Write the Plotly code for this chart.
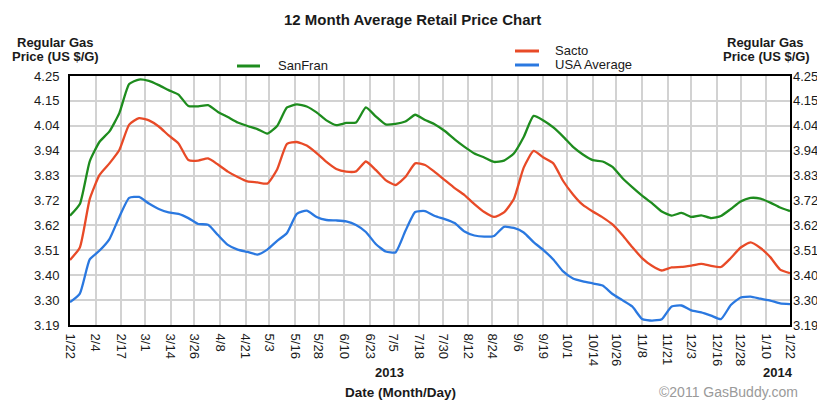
import plotly.graph_objects as go

dates = [
    "2013-01-22", "2013-01-27", "2013-02-01", "2013-02-06", "2013-02-11", "2013-02-16", "2013-02-21", "2013-02-26",
    "2013-03-03", "2013-03-08", "2013-03-13", "2013-03-18", "2013-03-23", "2013-03-28",
    "2013-04-02", "2013-04-07", "2013-04-12", "2013-04-17", "2013-04-22", "2013-04-27",
    "2013-05-02", "2013-05-07", "2013-05-12", "2013-05-17", "2013-05-22", "2013-05-27",
    "2013-06-01", "2013-06-06", "2013-06-11", "2013-06-16", "2013-06-21", "2013-06-26",
    "2013-07-01", "2013-07-06", "2013-07-11", "2013-07-16", "2013-07-21", "2013-07-26", "2013-07-31",
    "2013-08-05", "2013-08-10", "2013-08-15", "2013-08-20", "2013-08-25", "2013-08-30",
    "2013-09-04", "2013-09-09", "2013-09-14", "2013-09-19", "2013-09-24", "2013-09-29",
    "2013-10-04", "2013-10-09", "2013-10-14", "2013-10-19", "2013-10-24", "2013-10-29",
    "2013-11-03", "2013-11-08", "2013-11-13", "2013-11-18", "2013-11-23", "2013-11-28",
    "2013-12-03", "2013-12-08", "2013-12-13", "2013-12-18", "2013-12-23", "2013-12-28",
    "2014-01-02", "2014-01-07", "2014-01-12", "2014-01-17", "2014-01-22",
]

sanfran = [
    3.655, 3.705, 3.887, 3.970, 4.014, 4.092, 4.216, 4.235, 4.229, 4.211,
    4.190, 4.171, 4.122, 4.121, 4.126, 4.097, 4.075, 4.052, 4.037, 4.024,
    4.005, 4.037, 4.116, 4.129, 4.120, 4.095, 4.061, 4.041, 4.050, 4.052,
    4.116, 4.078, 4.044, 4.046, 4.056, 4.085, 4.063, 4.044, 4.016, 3.980,
    3.948, 3.920, 3.903, 3.884, 3.890, 3.920, 3.990, 4.080, 4.061, 4.031,
    3.992, 3.948, 3.916, 3.892, 3.886, 3.863, 3.816, 3.777, 3.741, 3.709,
    3.673, 3.656, 3.667, 3.650, 3.657, 3.645, 3.654, 3.684, 3.716, 3.731,
    3.728, 3.711, 3.690, 3.675,
]

sacto = [
    3.467, 3.520, 3.726, 3.829, 3.878, 3.935, 4.043, 4.071, 4.061, 4.035,
    3.997, 3.963, 3.892, 3.890, 3.899, 3.873, 3.843, 3.820, 3.801, 3.797,
    3.792, 3.852, 3.961, 3.969, 3.954, 3.922, 3.884, 3.854, 3.843, 3.844,
    3.886, 3.850, 3.807, 3.786, 3.820, 3.878, 3.871, 3.841, 3.807, 3.773,
    3.743, 3.705, 3.671, 3.650, 3.669, 3.726, 3.860, 3.931, 3.903, 3.878,
    3.803, 3.746, 3.701, 3.673, 3.648, 3.618, 3.573, 3.522, 3.475, 3.442,
    3.422, 3.435, 3.437, 3.443, 3.450, 3.442, 3.437, 3.475, 3.520, 3.542,
    3.518, 3.479, 3.426, 3.411,
]

usa = [
    3.287, 3.324, 3.469, 3.507, 3.556, 3.650, 3.731, 3.735, 3.707, 3.684,
    3.669, 3.663, 3.645, 3.620, 3.617, 3.573, 3.531, 3.511, 3.501, 3.490,
    3.511, 3.548, 3.582, 3.663, 3.677, 3.650, 3.637, 3.635, 3.631, 3.616,
    3.586, 3.535, 3.503, 3.499, 3.590, 3.671, 3.675, 3.654, 3.641, 3.624,
    3.588, 3.571, 3.566, 3.569, 3.608, 3.603, 3.584, 3.543, 3.509, 3.469,
    3.418, 3.388, 3.376, 3.367, 3.358, 3.322, 3.296, 3.269, 3.216, 3.209,
    3.215, 3.269, 3.273, 3.252, 3.244, 3.230, 3.215, 3.275, 3.307, 3.311,
    3.302, 3.294, 3.282, 3.279,
]

x_tick_dates = [
    "2013-01-22", "2013-02-04", "2013-02-17", "2013-03-01", "2013-03-14", "2013-03-26",
    "2013-04-08", "2013-04-21", "2013-05-03", "2013-05-16", "2013-05-28", "2013-06-10",
    "2013-06-23", "2013-07-05", "2013-07-18", "2013-07-30", "2013-08-12", "2013-08-24",
    "2013-09-06", "2013-09-19", "2013-10-01", "2013-10-14", "2013-10-26", "2013-11-08",
    "2013-11-21", "2013-12-03", "2013-12-16", "2013-12-28", "2014-01-10", "2014-01-22",
]
x_tick_labels = [
    "1/22", "2/4", "2/17", "3/1", "3/14", "3/26", "4/8", "4/21", "5/3", "5/16",
    "5/28", "6/10", "6/23", "7/5", "7/18", "7/30", "8/12", "8/24", "9/6", "9/19",
    "10/1", "10/14", "10/26", "11/8", "11/21", "12/3", "12/16", "12/28", "1/10", "1/22",
]
y_tick_labels = ["3.19", "3.30", "3.40", "3.51", "3.62", "3.72", "3.83", "3.94", "4.04", "4.15", "4.25"]
y_min, y_max = 3.19, 4.25
y_tick_vals = [y_min + (y_max - y_min) * i / 10 for i in range(11)]

# ---- styling ----
W, H = 817, 400
L, R, T, B = 70, 27, 76, 75
PW, PH = W - L - R, H - T - B
GREEN, RED, BLUE = "#1e8c1e", "#e84a27", "#2a78e0"
FONT = "Liberation Sans, Arial, sans-serif"
TXT = "#1a1a1a"


def px(xp):
    return (xp - L) / PW


def py(yp):
    return (H - B - yp) / PH


line_style = dict(width=2.3, shape="spline", smoothing=0.5)

fig = go.Figure()
fig.add_trace(go.Scatter(x=dates, y=sanfran, mode="lines", name="SanFran",
                         line=dict(color=GREEN, **line_style)))
fig.add_trace(go.Scatter(x=dates, y=sacto, mode="lines", name="Sacto",
                         line=dict(color=RED, **line_style)))
fig.add_trace(go.Scatter(x=dates, y=usa, mode="lines", name="USA Average",
                         line=dict(color=BLUE, **line_style)))
# carrier for the right-hand axis
fig.add_trace(go.Scatter(x=dates, y=usa, mode="lines", yaxis="y2", showlegend=False,
                         hoverinfo="skip", line=dict(color="rgba(0,0,0,0)", width=0)))

axis_font = dict(family=FONT, size=13, color=TXT)

fig.update_layout(
    width=W, height=H,
    margin=dict(l=L, r=R, t=T, b=B, autoexpand=False),
    paper_bgcolor="white", plot_bgcolor="white",
    showlegend=False,
    xaxis=dict(
        type="date", range=[x_tick_dates[0], x_tick_dates[-1]],
        tickmode="array", tickvals=x_tick_dates, ticktext=x_tick_labels,
        tickangle=90, tickfont=axis_font, ticks="", ticklabelstandoff=4,
        showgrid=True, gridcolor="#d2d2d2", gridwidth=1.5,
        showline=True, linecolor="black", linewidth=2, mirror=True,
        zeroline=False, automargin=False,
    ),
    yaxis=dict(
        range=[y_min, y_max], tickmode="array", tickvals=y_tick_vals, ticktext=y_tick_labels,
        tickfont=axis_font, ticks="", ticklabelstandoff=6,
        showgrid=True, gridcolor="#d2d2d2", gridwidth=1.5,
        showline=True, linecolor="black", linewidth=2, mirror=True,
        zeroline=False, automargin=False,
    ),
    yaxis2=dict(
        overlaying="y", side="right",
        range=[y_min, y_max], tickmode="array", tickvals=y_tick_vals, ticktext=y_tick_labels,
        tickfont=axis_font, ticks="", ticklabelstandoff=2,
        showgrid=False, showline=False, zeroline=False, automargin=False,
    ),
)

anns = []


def text(s, xp, yp, size=13, bold=False, color=TXT, xanchor="center"):
    anns.append(dict(
        text=f"<b>{s}</b>" if bold else s, x=px(xp), y=py(yp), xref="paper", yref="paper",
        showarrow=False, xanchor=xanchor, yanchor="middle",
        font=dict(family=FONT, size=size, color=color),
    ))


text("12 Month Average Retail Price Chart", 412, 19, size=15, bold=True)
text("Regular Gas", 55, 43, bold=True)
text("Price (US $/G)", 55, 57, bold=True)
text("Regular Gas", 765, 43, bold=True)
text("Price (US $/G)", 766, 57, bold=True)
text("SanFran", 276, 66, xanchor="left")
text("Sacto", 553, 50, xanchor="left")
text("USA Average", 553, 65, xanchor="left")
text("2013", 389, 372, size=13, bold=True)
text("2014", 778, 372, size=13, bold=True)
text("Date (Month/Day)", 400, 392, size=13.5, bold=True)
text("©2011 GasBuddy.com", 728, 392, size=14, color="#9a9a9a")
fig.update_layout(annotations=anns)

shapes = []
for (x0, x1, yy, c) in [(237, 260, 66, GREEN), (515, 539, 51, RED), (515, 539, 65, BLUE)]:
    shapes.append(dict(type="line", xref="paper", yref="paper",
                       x0=px(x0), x1=px(x1), y0=py(yy), y1=py(yy),
                       line=dict(color=c, width=3)))
fig.update_layout(shapes=shapes)

fig.write_html(
    "out.html",
    config={"displayModeBar": False},
    post_script="document.body.style.margin='0';document.body.style.overflow='hidden';",
)
